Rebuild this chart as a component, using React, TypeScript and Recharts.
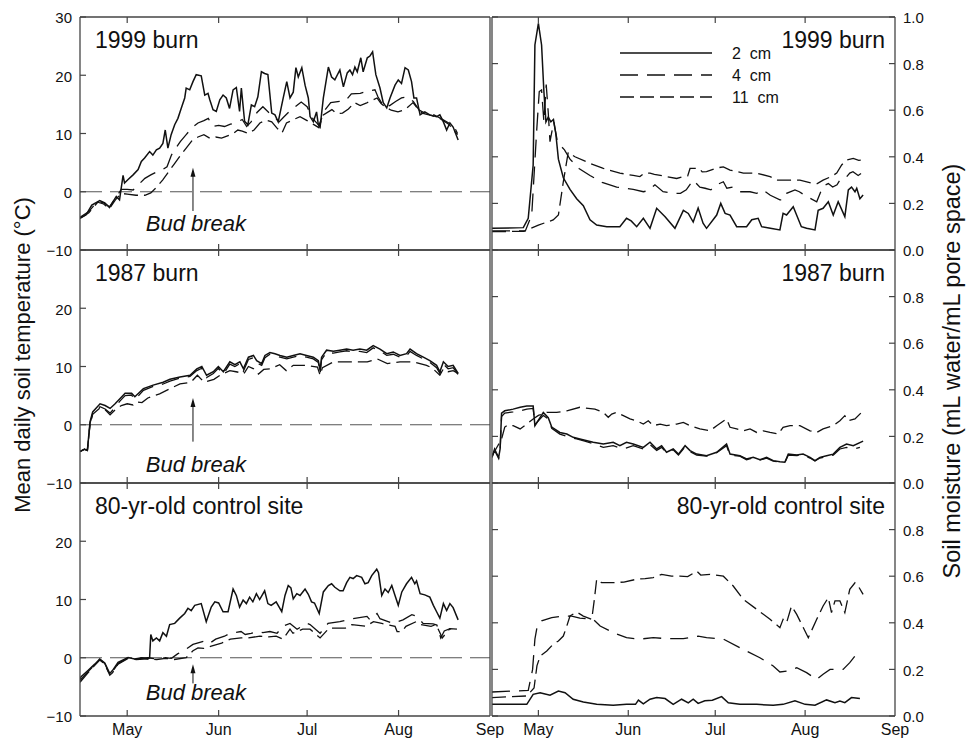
import React from 'react';
import { LineChart, Line, XAxis, YAxis, ReferenceLine, ReferenceDot } from 'recharts';

type Pt = [number, number];

// x axis: day of year, month ticks
const monthTicks = [121, 152, 182, 213, 244];
const monthLabels = ['May', 'Jun', 'Jul', 'Aug', 'Sep'];
const dayDomain: [number, number] = [105, 244];

const tempTicksTop = [-10, 0, 10, 20, 30];
const tempTicks = [-10, 0, 10, 20];
const moistTicksTop = [0, 0.2, 0.4, 0.6, 0.8, 1.0];
const moistTicks = [0, 0.2, 0.4, 0.6, 0.8];

const siteNames = ['1999 burn', '1987 burn', '80-yr-old control site'];
const depthNames = ['2  cm', '4  cm', '11  cm'];

// bud break annotation (day, arrow tail / tip, text centre) per row
const budDay = 143.3;
const budTail = [-3.3, -2.9, -4.4];
const budTip = [4.1, 4.6, -1.1];
const budText = [-5.4, -6.8, -5.9];

// ---- soil temperature (°C), [day, value] ----
const t99_2cm: Pt[] = [[105,-4.5],[107,-4.0],[109,-2.3],[111.7,-1.5],[113.4,-1.9],[115,-2.7],[116.2,-1.7],[117.3,-0.8],[118.4,-1.4],[119.6,2.8],[120.1,1.5],[121.3,2.1],[123,2.9],[124.7,3.8],[125.8,5.2],[126.9,5.8],[128.6,6.9],[129.7,6.3],[130.9,7.2],[132,7.5],[133.1,8.3],[133.9,10.6],[134.8,7.5],[135.9,9.8],[137.1,11.5],[138.2,12.6],[139.3,14.3],[140.5,16.1],[141,17.8],[142.2,17.5],[143.3,18.9],[144.4,20.1],[146.1,19.9],[147.3,16.6],[148.4,16.9],[149,15.8],[150.1,14.1],[151.2,13.8],[152.4,15.8],[153.5,16.6],[154.6,16.1],[155.7,14.3],[156.9,17.5],[158,17.9],[159.1,13.8],[159.7,17.8],[160.8,12.1],[161.9,11.5],[162.5,13.2],[163.1,14.9],[164.2,14.6],[165.3,16.3],[166.5,20.6],[167.6,20.3],[168.7,20.1],[170,13.5],[171.1,13.2],[172.2,12.0],[173.9,16.1],[175.1,18.9],[176.2,16.1],[177.3,17.1],[178.2,21.3],[179,19.7],[180.2,21.3],[181.3,18.3],[182.4,16.1],[183,12.9],[184.1,12.0],[185.2,13.7],[185.8,11.5],[186.4,11.1],[187.5,16.1],[189.2,21.4],[190.3,19.7],[191.4,19.2],[193.1,20.9],[194.3,18.0],[195.6,20.4],[196.5,20.9],[197.4,20.1],[198.2,21.4],[199,20.6],[200.2,23.0],[201,20.6],[202.4,23.0],[203.3,23.3],[204.2,24.0],[205.3,20.1],[206.7,17.8],[207.8,15.3],[209,14.4],[210.1,16.1],[211.8,18.3],[212.9,19.2],[214,18.6],[215.2,21.3],[216.3,20.9],[217.4,18.9],[218.2,16.1],[219.1,16.1],[220.3,13.2],[221.9,13.7],[223.6,13.2],[225.9,12.9],[227,13.2],[228.2,12.0],[229.3,10.6],[230.4,11.8],[231.5,11.1],[233.2,8.9]];
const t99_4cm: Pt[] = [[105,-4.4],[108,-3.4],[111,-1.6],[113,-1.9],[115,-2.6],[117,-1.1],[119,0.4],[121,0.4],[123,0.3],[125,1.3],[127,2.3],[129,2.9],[131,3.4],[133,3.8],[134.5,4.3],[136,6.3],[137.5,7.5],[139,8.6],[141,9.8],[143,11.0],[145,11.8],[147,12.2],[148.5,12.6],[150,11.2],[152,11.4],[154,11.2],[156,11.6],[158,11.9],[160,12.4],[161.5,11.2],[163,12.0],[165,13.6],[167,14.6],[169,13.6],[171,12.8],[172.5,12.0],[174,12.8],[176,13.8],[178,14.6],[180,15.4],[182,14.6],[184,12.5],[186,11.4],[188,14.0],[190,15.3],[193,15.5],[195,15.6],[197,16.8],[200,16.9],[203,17.3],[205,17.5],[206,16.3],[208,14.6],[210,14.8],[212,15.5],[214,16.1],[216,16.3],[218,15.5],[220,14.0],[222,13.5],[225,13.2],[228,12.4],[230,11.8],[232,11.0],[233,10.0]];
const t99_11cm: Pt[] = [[105,-4.6],[108,-3.6],[111,-1.8],[113,-2.1],[115,-2.9],[117,-1.4],[119,-0.3],[121,-0.4],[124,-0.6],[127,-0.6],[129,-0.2],[131,0.8],[133,2.0],[135,3.4],[137,4.8],[139,6.2],[141,7.5],[143,8.8],[145,9.4],[147,9.8],[149,9.2],[151,9.4],[153,9.2],[155,9.6],[157,10.0],[158.5,10.6],[160,10.4],[162,10.0],[164,10.6],[166,11.8],[168,12.3],[170,12.0],[172,10.8],[173.5,10.1],[175,11.8],[177,12.3],[179.6,12.9],[182,12.2],[184,11.6],[186,11.0],[187.5,13.2],[190.4,14.1],[192,13.4],[194,13.5],[196,14.2],[198,15.3],[200,14.8],[202,15.2],[204,15.7],[205.7,16.1],[207,15.2],[208.4,14.6],[210.5,14.0],[212.8,13.7],[215.2,14.1],[217.9,15.3],[219,14.6],[221,13.5],[224,13.1],[227,12.6],[230,11.6],[233,9.8]];

const t87_2cm: Pt[] = [[105,-4.6],[106.5,-4.2],[107.5,-4.4],[108.4,0.5],[109.3,2.2],[111.8,3.6],[113.5,3.3],[115.2,2.8],[116.9,3.6],[118.6,4.5],[120.3,5.4],[122.5,5.4],[123.6,4.8],[126.5,6.2],[129.8,6.8],[133.2,7.3],[135.5,7.8],[138.9,8.2],[142.3,8.5],[144.6,9.6],[146.3,10.0],[147.9,8.5],[150.2,9.1],[151.9,10.0],[153.6,9.1],[155.8,10.8],[157.5,10.3],[159.2,10.8],[160.4,9.6],[162.1,11.6],[163.8,11.9],[164.9,11.0],[166.6,10.5],[167.7,11.9],[169.4,12.4],[171.1,12.2],[172.8,11.9],[175.1,11.6],[177.3,11.9],[179.6,12.2],[181.8,11.9],[184.1,11.6],[185.8,11.0],[186.4,9.3],[186.9,11.6],[188.6,12.8],[190.9,12.6],[193.1,12.8],[195.4,13.0],[197.6,12.8],[199.9,13.0],[202.2,12.8],[204.4,13.6],[206.7,13.0],[209,12.2],[211.2,12.5],[213.5,11.9],[215.7,12.2],[216.9,13.0],[219.1,12.2],[221.4,11.6],[223.6,11.0],[225.9,10.2],[227,9.1],[228.2,10.8],[229.8,10.0],[231.5,10.2],[233.2,8.8]];
const t87_4cm: Pt[] = [[105,-4.6],[106.5,-4.2],[107.5,-4.4],[108.4,0.3],[109.3,1.9],[111.8,3.1],[113.5,2.7],[115.2,2.0],[116.9,3.0],[118.6,4.1],[120.3,5.0],[122.5,5.1],[123.6,4.3],[126.5,5.9],[129.8,6.6],[133.2,7.0],[135.5,7.5],[138.9,8.0],[142.3,8.3],[144.6,9.3],[146.3,9.7],[147.9,8.1],[150.2,8.8],[151.9,9.7],[153.6,8.7],[155.8,10.4],[157.5,10.0],[159.2,10.5],[160.4,9.2],[162.1,11.2],[163.8,11.5],[164.9,10.6],[166.6,10.2],[167.7,11.5],[169.4,12.1],[171.1,11.8],[172.8,11.6],[175.1,11.3],[177.3,11.6],[179.6,11.9],[181.8,11.6],[184.1,11.3],[185.8,10.7],[186.4,8.8],[186.9,11.2],[188.6,12.4],[190.9,12.3],[193.1,12.5],[195.4,12.7],[197.6,12.5],[199.9,12.6],[202.2,12.4],[204.4,13.2],[206.7,12.7],[209,11.9],[211.2,12.1],[213.5,11.6],[215.7,11.8],[216.9,12.6],[219.1,11.9],[221.4,11.3],[223.6,10.7],[225.9,9.8],[227,8.8],[228.2,10.4],[229.8,9.6],[231.5,9.8],[233.2,8.6]];
const t87_11cm: Pt[] = [[105,-4.6],[106.5,-4.2],[107.5,-4.4],[108.4,0.0],[109.3,1.8],[111.8,2.9],[113.5,2.6],[115.2,1.7],[117,2.6],[119,3.3],[121,3.6],[123,3.4],[124,3.9],[126,3.8],[128,4.6],[130,5.0],[132,5.3],[135.5,6.2],[138.9,7.0],[142.6,7.3],[144.8,8.5],[147.1,7.3],[150.4,7.8],[152.5,8.5],[155.8,9.3],[157.9,9.1],[160.6,8.8],[162.1,10.0],[163.9,9.6],[165.5,8.7],[167.3,9.5],[169.6,9.6],[172.7,10.3],[174.9,9.3],[177.3,10.2],[181.8,10.2],[185.5,9.9],[186.4,8.5],[187.2,9.8],[190.9,10.8],[197.6,10.8],[202.4,10.8],[205.8,11.3],[209.2,10.5],[213.5,10.8],[217.9,10.8],[222.5,10.2],[224.5,9.7],[227,8.5],[228.2,9.6],[229.8,9.1],[231.5,9.3],[233.2,8.8]];

const tc_2cm: Pt[] = [[105,-3.9],[105.3,-3.3],[107.7,-2.2],[110,-1.1],[111.7,-0.2],[113.4,-0.9],[115.1,-2.7],[116,-2.2],[117.9,-0.8],[121.3,0.05],[123.5,-0.2],[126,0.0],[128,-0.2],[128.6,0.0],[129,4.0],[129.7,2.9],[130.9,3.4],[132,2.9],[133.1,4.3],[134.3,3.7],[135.4,5.7],[137.1,5.9],[138.8,6.8],[140.5,7.6],[141.6,8.5],[142.7,8.1],[143.9,9.0],[146.1,9.3],[147.8,6.2],[149.5,8.7],[150.7,9.6],[152,9.4],[153.5,7.9],[155.2,7.9],[156.9,11.8],[158,10.7],[159.1,8.7],[160.3,9.9],[161.4,9.3],[162.5,10.4],[163.6,9.6],[164.8,11.0],[165.9,10.0],[167.6,11.5],[168.7,9.3],[169.8,9.0],[171.5,9.6],[173.4,7.9],[174.5,10.7],[175.6,12.4],[176.5,12.0],[177.3,10.1],[178.5,11.0],[179.6,10.7],[181.3,11.8],[182.4,10.9],[183.5,9.6],[184.5,9.4],[186.1,7.6],[187.5,11.3],[189.2,12.4],[190.3,12.7],[191.4,12.1],[193.1,11.5],[194.2,11.5],[195.4,12.9],[196.5,13.8],[197.6,13.6],[198.8,14.1],[200.5,13.8],[201.6,12.7],[202.7,12.9],[203.9,14.1],[205.6,15.2],[206.2,14.6],[207.3,10.7],[208.4,11.8],[209.5,11.2],[210.7,12.4],[211.8,10.7],[212.9,9.0],[214.1,11.3],[215.7,12.7],[217.4,13.8],[218.5,12.7],[219.1,13.2],[220.3,11.0],[221.9,10.8],[223.6,10.4],[224.8,9.0],[225.9,7.9],[227,6.8],[228.2,9.3],[229.3,8.1],[230.4,9.3],[231.5,8.6],[233.2,6.5]];
const tc_4cm: Pt[] = [[105,-3.9],[107.7,-2.4],[110,-1.2],[111.7,-0.3],[113.4,-1.0],[115.1,-2.9],[116,-2.4],[117.9,-1.0],[121.3,0.0],[124,-0.2],[128,0.0],[131,-0.2],[134,0.0],[136,-0.1],[138.2,0.7],[141,1.5],[143.3,2.3],[147.4,2.9],[149,2.5],[151,3.2],[154,3.7],[155.8,4.2],[159.6,4.5],[161,4.0],[163,4.2],[165.5,4.5],[167,4.3],[169.4,4.5],[171.8,4.2],[173.8,5.4],[176.2,5.9],[178.6,4.9],[181.9,5.9],[183,5.7],[186.4,4.2],[189.1,5.9],[193.1,6.2],[197.2,6.7],[202.3,7.1],[203.3,6.5],[205.7,7.6],[206.7,6.7],[211.1,5.9],[214.5,6.5],[217.5,7.4],[219.2,7.1],[221.3,5.9],[224.7,5.8],[226,5.6],[227.3,3.4],[228.5,4.6],[230.4,5.0],[232,4.5],[233,4.8]];
const tc_11cm: Pt[] = [[105,-4.2],[107.7,-2.6],[110,-1.3],[111.7,-0.4],[113.4,-1.1],[115.1,-3.0],[116,-2.6],[117.9,-1.1],[121.3,-0.1],[124,-0.3],[128,-0.2],[131,-0.3],[134,-0.1],[137,-0.3],[141,0.0],[143.3,1.2],[145,1.7],[147,1.6],[149.5,2.0],[153,2.5],[156,3.2],[159.6,3.4],[162,3.4],[166,3.7],[169,3.6],[171.5,3.7],[173.8,3.2],[176.2,4.9],[177.2,4.2],[180.5,4.9],[183,4.9],[186.4,3.4],[189.5,5.1],[195,5.1],[197.2,5.7],[202,5.4],[204.5,6.2],[207.3,5.9],[209,5.7],[211.8,5.4],[212.5,4.5],[214.2,4.5],[215.5,5.4],[219,6.2],[220.5,5.7],[224,5.4],[225.7,5.7],[227.3,4.0],[227.8,3.4],[230.4,5.0],[232.8,4.9]];

// ---- soil moisture (mL water/mL pore space), [day, value] ----
const m99_2cm: Pt[] = [[105,0.093],[115.8,0.096],[117.5,0.136],[119.2,0.365],[119.8,0.88],[121,0.973],[122.1,0.88],[122.9,0.68],[123.6,0.55],[124.4,0.57],[125.3,0.55],[126.2,0.56],[127,0.5],[127.9,0.39],[129.6,0.31],[131.9,0.26],[134.2,0.22],[136.5,0.19],[138.8,0.13],[141.1,0.107],[144.6,0.10],[149.1,0.10],[151.4,0.136],[153,0.125],[154.9,0.10],[157.2,0.136],[159.5,0.093],[161.8,0.179],[164.7,0.143],[168.1,0.093],[171,0.17],[172.7,0.157],[174.4,0.12],[176.1,0.18],[177.8,0.115],[179,0.093],[182.5,0.15],[183.9,0.20],[185.4,0.157],[187.1,0.15],[189.4,0.10],[192.8,0.10],[194.6,0.13],[196.8,0.136],[198,0.10],[201,0.093],[204.3,0.086],[205.4,0.157],[206.6,0.15],[208.9,0.186],[211.7,0.10],[213.5,0.093],[216.4,0.086],[217.5,0.17],[219.2,0.179],[221,0.207],[222.7,0.15],[224.4,0.207],[226.7,0.143],[227.9,0.258],[229,0.27],[230.2,0.25],[230.8,0.265],[231.9,0.22],[233,0.236]];
const m99_4cm: Pt[] = [[105,0.082],[116.5,0.082],[118.7,0.15],[120.4,0.51],[121.3,0.68],[122.1,0.687],[122.9,0.55],[123.7,0.71],[124.4,0.59],[125,0.465],[126.3,0.55],[127.5,0.47],[128.5,0.45],[130,0.43],[131.9,0.39],[135,0.35],[138.8,0.32],[143,0.29],[148,0.27],[153.7,0.26],[157.2,0.25],[159,0.255],[161.2,0.28],[164,0.25],[167.5,0.243],[170,0.243],[172,0.258],[174.4,0.30],[176.7,0.27],[178.5,0.265],[180.5,0.258],[182.5,0.28],[184.8,0.293],[186,0.265],[188,0.27],[190.5,0.25],[194,0.25],[196.3,0.243],[198.5,0.258],[201,0.235],[204.3,0.215],[205.4,0.215],[206.6,0.243],[209.5,0.258],[211,0.25],[213.5,0.23],[217,0.207],[219.2,0.275],[221,0.285],[222.5,0.27],[224,0.28],[225,0.30],[226.7,0.305],[228.4,0.33],[229.5,0.336],[231.3,0.32],[232.5,0.33]];
const m99_11cm: Pt[] = [[105,0.079],[116,0.08],[121,0.107],[126.1,0.129],[127.9,0.15],[129.6,0.293],[131.3,0.42],[133.6,0.40],[138.8,0.372],[143.4,0.35],[149.1,0.33],[153.7,0.32],[156,0.315],[157.5,0.33],[159.5,0.33],[161,0.325],[165.2,0.315],[168.7,0.307],[171,0.315],[172.5,0.318],[173.3,0.35],[176.5,0.35],[177.5,0.335],[179,0.336],[182.5,0.352],[184.8,0.357],[187.1,0.343],[191.7,0.33],[196.3,0.33],[200.9,0.315],[203.5,0.30],[207.8,0.30],[211.2,0.30],[215.8,0.285],[217.2,0.285],[219.2,0.30],[222,0.315],[223.9,0.33],[225.6,0.365],[227.3,0.386],[229.6,0.393],[231.5,0.385],[233,0.386]];

const m87_2cm: Pt[] = [[105,0.11],[105.9,0.146],[106.5,0.13],[107.3,0.11],[107.8,0.146],[108.3,0.30],[109.4,0.31],[112.3,0.317],[114.7,0.325],[117,0.33],[119.2,0.33],[119.8,0.246],[122.7,0.303],[124.4,0.28],[125.6,0.24],[128.4,0.217],[130.8,0.21],[133,0.196],[135.3,0.189],[139.9,0.175],[143.4,0.167],[146.8,0.175],[149.1,0.16],[151.4,0.175],[153.7,0.167],[157.2,0.153],[159.5,0.175],[161.8,0.146],[163.5,0.16],[165.2,0.132],[167.5,0.146],[169.3,0.124],[171.6,0.16],[173.3,0.139],[175.6,0.124],[179,0.117],[182.5,0.132],[185.9,0.167],[187.1,0.124],[190.5,0.117],[192.8,0.103],[195.1,0.11],[197.4,0.10],[199.7,0.11],[202,0.096],[204.3,0.091],[206,0.089],[207.2,0.124],[210.1,0.12],[212.3,0.124],[214.7,0.11],[216.4,0.096],[218.1,0.11],[220.4,0.117],[222.7,0.124],[225,0.153],[227.3,0.167],[229.6,0.16],[233,0.18]];
const m87_4cm: Pt[] = [[105,0.11],[105.9,0.14],[106.5,0.125],[107.3,0.105],[107.8,0.14],[108.3,0.285],[109.4,0.30],[112.3,0.305],[114.7,0.31],[117,0.317],[119.2,0.32],[119.8,0.25],[122.7,0.29],[124.4,0.275],[125.6,0.235],[128.4,0.21],[130.8,0.2],[134.2,0.189],[137,0.18],[140.5,0.167],[143.4,0.153],[146.8,0.16],[150.3,0.146],[153.7,0.16],[157.2,0.146],[159.5,0.165],[161.8,0.14],[163.5,0.153],[165.2,0.13],[167.5,0.143],[169.3,0.12],[171.6,0.155],[173.3,0.135],[175.6,0.12],[179,0.115],[182.5,0.13],[185.9,0.16],[187.1,0.12],[190.5,0.115],[192.8,0.1],[195.1,0.108],[197.4,0.098],[199.7,0.107],[202,0.094],[204.3,0.089],[206,0.087],[207.2,0.12],[210.1,0.118],[212.3,0.12],[214.7,0.107],[216.4,0.094],[218.1,0.107],[220.4,0.114],[222.7,0.12],[225,0.146],[227.3,0.153],[229.6,0.146],[231.9,0.153]];
const m87_11cm: Pt[] = [[105,0.117],[107,0.16],[108.3,0.189],[109.4,0.24],[110.5,0.25],[112.3,0.246],[114.7,0.232],[117,0.253],[119.2,0.275],[121,0.29],[123.9,0.303],[127.3,0.303],[130.8,0.31],[135.3,0.325],[140.5,0.317],[143.4,0.303],[145.1,0.282],[146.3,0.296],[148,0.303],[150.3,0.289],[152.6,0.275],[154.9,0.267],[157.2,0.253],[158.9,0.267],[160.6,0.246],[163,0.253],[165.2,0.246],[168.7,0.253],[171,0.26],[173.3,0.246],[176.7,0.232],[180.2,0.224],[182.5,0.246],[185.9,0.275],[187.1,0.239],[189.4,0.232],[191.7,0.224],[194,0.232],[196.3,0.217],[198.6,0.224],[200.9,0.217],[203.7,0.21],[205.4,0.239],[207.8,0.246],[211.2,0.246],[214.7,0.224],[217,0.217],[219.2,0.232],[222.7,0.246],[225,0.267],[226.7,0.289],[227.9,0.267],[230.2,0.275],[233,0.31]];

const mc_2cm: Pt[] = [[105,0.05],[117,0.05],[119.2,0.093],[121.6,0.10],[125,0.089],[127.9,0.107],[130.2,0.10],[133,0.072],[136.5,0.06],[141.1,0.05],[146.8,0.046],[151.4,0.05],[154.5,0.05],[155.5,0.068],[157.2,0.052],[159.5,0.072],[161.8,0.079],[164.7,0.075],[167.5,0.05],[170.4,0.072],[172.7,0.056],[174.4,0.072],[176.1,0.054],[178.4,0.065],[181,0.068],[184.2,0.083],[186.5,0.057],[190.5,0.05],[196.3,0.05],[202,0.046],[205.4,0.05],[209.5,0.065],[213,0.05],[216.4,0.046],[220.4,0.069],[223.3,0.057],[225,0.064],[226.7,0.057],[229,0.079],[231.9,0.075]];
const mc_4cm: Pt[] = [[105,0.103],[117.5,0.11],[119,0.2],[119.8,0.33],[120.6,0.386],[122.1,0.408],[125.6,0.422],[129.6,0.429],[132.5,0.429],[135.3,0.42],[139.9,0.415],[142.3,0.386],[146.8,0.358],[151.4,0.336],[156,0.33],[160.6,0.336],[165.2,0.332],[171,0.332],[176.1,0.343],[179,0.336],[184.8,0.33],[190.5,0.293],[197.4,0.25],[202,0.215],[204.3,0.189],[206.6,0.193],[210.1,0.207],[213.5,0.186],[217,0.157],[219.2,0.179],[221.6,0.20],[226.1,0.20],[228.4,0.229],[230.7,0.265],[231.9,0.257]];
const mc_11cm: Pt[] = [[105,0.079],[117,0.086],[119.5,0.12],[120.5,0.215],[121.6,0.257],[123.9,0.279],[126.1,0.308],[127.9,0.322],[129.6,0.343],[130.8,0.386],[131.9,0.429],[134.2,0.446],[136.5,0.429],[139.4,0.415],[140.3,0.5],[141.1,0.587],[142.8,0.572],[146.8,0.572],[150.5,0.575],[154.9,0.587],[157.8,0.59],[160.6,0.594],[163.5,0.608],[166.9,0.60],[169.8,0.60],[172.5,0.598],[175.6,0.622],[177,0.605],[180.2,0.608],[184.8,0.60],[188.2,0.558],[191.7,0.50],[196.3,0.458],[200.9,0.415],[204.3,0.379],[205.4,0.415],[206.6,0.40],[208.3,0.472],[210.1,0.436],[214.1,0.336],[217,0.415],[219.2,0.472],[221,0.508],[222.1,0.444],[223.3,0.494],[225,0.494],[226.7,0.444],[228.4,0.544],[230.2,0.572],[231.2,0.56],[233,0.522]];

const tempRows = [
  [t99_2cm, t99_4cm, t99_11cm],
  [t87_2cm, t87_4cm, t87_11cm],
  [tc_2cm, tc_4cm, tc_11cm],
];
const moistRows = [
  [m99_2cm, m99_4cm, m99_11cm],
  [m87_2cm, m87_4cm, m87_11cm],
  [mc_2cm, mc_4cm, mc_11cm],
];

// layout
const LEFT_X = 80;
const LEFT_W = 410;
const RIGHT_X = 492;
const RIGHT_W = 403;
const ROW_TOP = [17, 250, 483];
const ROW_H = 233;
const AX = 1; // axes need a non-zero size to be drawn

const FONT = '"Liberation Sans", Arial, Helvetica, sans-serif';
const INK = '#111';
const FRAME = '#444';
const dashes = [undefined, '18 9', '14 6'];
const widths = [1.5, 1.3, 1.3];

const toRows = (pts: Pt[]) => pts.map(([d, v]) => ({ d, v }));
const fmtTemp = (v: number) => (v < 0 ? `\u2212${Math.abs(v)}` : `${v}`);
const fmtMoist = (v: number) => v.toFixed(1);

const MonthTick = (props: any) => {
  const { x, y, payload, orient, showLabel } = props;
  const dir = orient === 'top' ? 1 : -1;
  const i = monthTicks.indexOf(payload.value);
  return (
    <g>
      {payload.value < dayDomain[1] && (
        <line x1={x} x2={x} y1={y} y2={y + dir * 6} stroke={FRAME} strokeWidth={1.2} />
      )}
      {showLabel && (
        <text x={x} y={y + 19} textAnchor="middle" fontSize={16} fontFamily={FONT} fill={INK}>
          {monthLabels[i]}
        </text>
      )}
    </g>
  );
};

const ValueTick = (props: any) => {
  const { x, y, payload, side, showLabel, fmt } = props;
  const dir = side === 'left' ? 1 : -1;
  return (
    <g>
      <line x1={x} x2={x + dir * 6} y1={y} y2={y} stroke={FRAME} strokeWidth={1.2} />
      {showLabel && (
        <text
          x={x - dir * 8}
          y={y + 1}
          dy="0.35em"
          textAnchor={side === 'left' ? 'end' : 'start'}
          fontSize={15}
          fontFamily={FONT}
          fill={INK}
        >
          {fmt(payload.value)}
        </text>
      )}
    </g>
  );
};

const Arrow = (p: any) => {
  const { x1, y1, x2, y2 } = p;
  return (
    <g>
      <line x1={x1} y1={y1} x2={x2} y2={y2 + 6} stroke={INK} strokeWidth={1} />
      <path d={`M${x2},${y2} L${x2 - 2.5},${y2 + 9} L${x2 + 2.5},${y2 + 9} Z`} fill={INK} />
    </g>
  );
};

const axisLine = { stroke: FRAME, strokeWidth: 1.3 };

function Panel({ row, kind }: { row: number; kind: 'temp' | 'moist' }) {
  const isTemp = kind === 'temp';
  const bottom = row === 2;
  const padT = 12;
  const padB = bottom ? 34 : 12;
  const padL = isTemp ? LEFT_X : 10;
  const padR = isTemp ? 24 : 55;
  const plotW = isTemp ? LEFT_W : RIGHT_W;
  const domain: [number, number] = isTemp ? [-10, 30] : [0, 1];
  const ticks = isTemp ? (row === 0 ? tempTicksTop : tempTicks) : row === 0 ? moistTicksTop : moistTicks;
  const fmt = isTemp ? fmtTemp : fmtMoist;
  const series = (isTemp ? tempRows : moistRows)[row];

  return (
    <div style={{ position: 'absolute', left: isTemp ? 0 : RIGHT_X - padL, top: ROW_TOP[row] - padT }}>
      <LineChart
        width={padL + plotW + padR}
        height={padT + ROW_H + padB}
        margin={{ top: padT - AX, right: padR - AX, bottom: padB - AX, left: padL - AX }}
      >
        <XAxis
          xAxisId="b"
          dataKey="d"
          type="number"
          domain={dayDomain}
          allowDataOverflow
          ticks={monthTicks}
          interval={0}
          height={AX}
          tickSize={0}
          tickMargin={0}
          tickLine={false}
          axisLine={axisLine}
          tick={(p: any) => <MonthTick {...p} orient="bottom" showLabel={bottom} />}
        />
        <XAxis
          xAxisId="t"
          orientation="top"
          dataKey="d"
          type="number"
          domain={dayDomain}
          allowDataOverflow
          ticks={monthTicks}
          interval={0}
          height={AX}
          tickSize={0}
          tickMargin={0}
          tickLine={false}
          axisLine={axisLine}
          tick={(p: any) => <MonthTick {...p} orient="top" showLabel={false} />}
        />
        <YAxis
          yAxisId="l"
          type="number"
          domain={domain}
          allowDataOverflow
          ticks={ticks}
          interval={0}
          width={AX}
          tickSize={0}
          tickMargin={0}
          tickLine={false}
          axisLine={axisLine}
          tick={(p: any) => <ValueTick {...p} side="left" showLabel={isTemp} fmt={fmt} />}
        />
        <YAxis
          yAxisId="r"
          orientation="right"
          type="number"
          domain={domain}
          allowDataOverflow
          ticks={ticks}
          interval={0}
          width={AX}
          tickSize={0}
          tickMargin={0}
          tickLine={false}
          axisLine={axisLine}
          tick={isTemp ? false : (p: any) => <ValueTick {...p} side="right" showLabel fmt={fmt} />}
        />
        {isTemp && (
          <ReferenceLine xAxisId="b" yAxisId="l" y={0} stroke="#555" strokeWidth={1} strokeDasharray="22 8" />
        )}
        {isTemp && (
          <ReferenceLine
            xAxisId="b"
            yAxisId="l"
            segment={[
              { x: budDay, y: budTail[row] },
              { x: budDay, y: budTip[row] },
            ]}
            shape={Arrow}
          />
        )}
        {isTemp && (
          <ReferenceDot
            xAxisId="b"
            yAxisId="l"
            x={budDay + 1}
            y={budText[row]}
            r={0}
            fill="none"
            stroke="none"
            label={{
              value: 'Bud break',
              position: 'center',
              fill: INK,
              fontSize: 22,
              fontStyle: 'italic',
              fontFamily: FONT,
            }}
          />
        )}
        {series.map((pts, i) => (
          <Line
            key={depthNames[i]}
            xAxisId="b"
            yAxisId="l"
            data={toRows(pts)}
            dataKey="v"
            type="linear"
            dot={false}
            activeDot={false}
            stroke={INK}
            strokeWidth={widths[i]}
            strokeDasharray={dashes[i]}
            isAnimationActive={false}
          />
        ))}
      </LineChart>
    </div>
  );
}

export default function App() {
  return (
    <div style={{ position: 'absolute', left: 0, top: 0, width: 968, height: 740, background: '#fff', fontFamily: FONT }}>
      {[0, 1, 2].map((r) => (
        <Panel key={`t${r}`} row={r} kind="temp" />
      ))}
      {[0, 1, 2].map((r) => (
        <Panel key={`m${r}`} row={r} kind="moist" />
      ))}
      <svg width={968} height={740} style={{ position: 'absolute', left: 0, top: 0, pointerEvents: 'none' }}>
        {siteNames.map((name, r) => (
          <g key={name}>
            <text x={95} y={ROW_TOP[r] + 31} fontSize={23} fontFamily={FONT} fill={INK}>
              {name}
            </text>
            <text x={885} y={ROW_TOP[r] + 31} fontSize={23} fontFamily={FONT} fill={INK} textAnchor="end">
              {name}
            </text>
          </g>
        ))}
        {depthNames.map((name, i) => (
          <g key={name}>
            <line
              x1={620}
              x2={712}
              y1={53 + i * 22}
              y2={53 + i * 22}
              stroke={INK}
              strokeWidth={widths[i]}
              strokeDasharray={dashes[i]}
            />
            <text
              x={732}
              y={53 + i * 22}
              dy="0.35em"
              fontSize={16}
              fontFamily={FONT}
              fill={INK}
              xmlSpace="preserve"
              style={{ whiteSpace: 'pre' }}
            >
              {name}
            </text>
          </g>
        ))}
        <text
          x={22}
          y={355}
          transform="rotate(-90 22 355)"
          textAnchor="middle"
          dominantBaseline="central"
          fontSize={22}
          fontFamily={FONT}
          fill={INK}
        >
          Mean daily soil temperature (°C)
        </text>
        <text
          x={952}
          y={371}
          transform="rotate(-90 952 371)"
          textAnchor="middle"
          dominantBaseline="central"
          fontSize={23.5}
          fontFamily={FONT}
          fill={INK}
        >
          Soil moisture (mL water/mL pore space)
        </text>
      </svg>
    </div>
  );
}
